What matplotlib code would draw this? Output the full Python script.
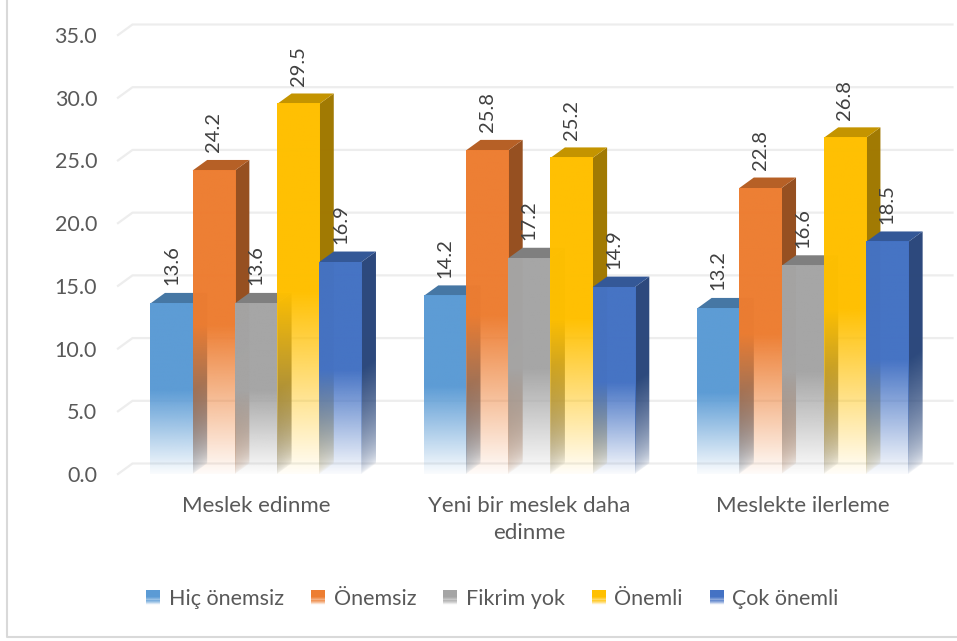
import numpy as np
import matplotlib
matplotlib.use("Agg")
import matplotlib.pyplot as plt
from matplotlib.colors import to_rgb
from matplotlib.legend_handler import HandlerBase
from matplotlib.lines import Line2D
from matplotlib.patches import Patch, Polygon, Rectangle

plt.rcParams['font.family'] = ['Lato', 'DejaVu Sans']

categories = ["Meslek edinme", "Yeni bir meslek daha\nedinme", "Meslekte ilerleme"]
series = ["Hiç önemsiz", "Önemsiz", "Fikrim yok", "Önemli", "Çok önemli"]
colors = ["#5B9BD5", "#ED7D31", "#A5A5A5", "#FFC000", "#4472C4"]

hic_onemsiz = [13.6, 14.2, 13.2]
onemsiz = [24.2, 25.8, 22.8]
fikrim_yok = [13.6, 17.2, 16.6]
onemli = [29.5, 25.2, 26.8]
cok_onemli = [16.9, 14.9, 18.5]
values = [hic_onemsiz, onemsiz, fikrim_yok, onemli, cok_onemli]

yticks = [0, 5, 10, 15, 20, 25, 30, 35]

W, H = 957, 641
text_color = "#595959"
grid_color = "#EDEDED"

fig = plt.figure(figsize=(W / 100, H / 100), dpi=100)
ax = fig.add_axes([118 / W, 1 - 474 / H, 820 / W, 439 / H])
ax.set_xlim(-0.5, 2.5)
ax.set_ylim(0, 35)
for s in ax.spines.values():
    s.set_visible(False)

# pixel sizes turned into data units
px_x = 3 / 820
px_y = 35 / 439
w = 42.2 * px_x
dx = 14.5 * px_x
dy = 10.5 * px_y
shift = 1.3 * px_x

# grid, drawn on the floor/back wall like the 3d chart
for t in yticks:
    ax.plot([-0.5, -0.5 + dx, 2.5 + dx], [t, t + dy, t + dy], color=grid_color,
            lw=1.6, clip_on=False, zorder=1)


def fade(color, top, y, offset=0, power=1.0):
    # lower half of the bar fades out to white
    a = np.clip((y - offset) / (0.49 * top), 0, 1) ** power * 0.96 + 0.03
    img = np.ones(y.shape + (4,))
    img[..., :3] = color
    img[..., 3] = a
    return img


z = 2
for j, (vals, c) in enumerate(zip(values, colors)):
    rgb = np.array(to_rgb(c))
    for i, v in enumerate(vals):
        x0 = i + shift + (j - 2.5) * w
        x1 = x0 + w

        # right side
        xs = np.linspace(0, 1, 30)
        ys = np.linspace(0, v + dy, 300)
        gx, gy = np.meshgrid(xs, ys)
        im = ax.imshow(fade(rgb * 0.63, v, gy, gx * dy, 0.55), extent=[x1, x1 + dx, 0, v + dy],
                       origin='lower', aspect='auto', zorder=z, interpolation='bilinear')
        side = Polygon([(x1, 0), (x1 + dx, dy), (x1 + dx, v + dy), (x1, v)],
                       transform=ax.transData, fc='none', ec='none')
        ax.add_patch(side)
        im.set_clip_path(side)

        # top
        ax.add_patch(Polygon([(x0, v), (x1, v), (x1 + dx, v + dy), (x0 + dx, v + dy)],
                             fc=rgb * 0.77, ec='none', zorder=z))

        # front
        ys = np.linspace(0, v, 300).reshape(-1, 1)
        ax.imshow(fade(rgb, v, ys), extent=[x0, x1, 0, v], origin='lower', aspect='auto',
                  zorder=z + 0.5, interpolation='bilinear')

        ax.annotate(f"{v:.1f}", (x0 + w / 2, v), xytext=(0, 13), textcoords='offset points',
                    rotation=90, ha='center', va='bottom', fontsize=14.5, color="#404040",
                    zorder=10)
    z += 1

ax.set_xlim(-0.5, 2.5)
ax.set_ylim(0, 35)
ax.set_yticks(yticks)
ax.set_yticklabels([f"{t:.1f}" for t in yticks], fontsize=15.5, color=text_color)
ax.set_xticks(np.arange(3) + shift)
ax.set_xticklabels(categories, fontsize=16, color=text_color, linespacing=1.45)
ax.tick_params(axis='both', length=0)
ax.tick_params(axis='y', pad=15)
ax.tick_params(axis='x', pad=16)


class FadeHandler(HandlerBase):
    def create_artists(self, legend, orig, xd, yd, width, height, fontsize, trans):
        n = 14
        out = []
        color = orig.get_facecolor()
        for k in range(n):
            frac = k / n
            a = min(1, 0.05 + frac * 2)
            r = Rectangle((-xd, -yd + height * frac), width, height / n + 0.1,
                          fc=color[:3], alpha=a, ec='none', transform=trans)
            out.append(r)
        return out


handles = [Patch(color=c) for c in colors]
leg = fig.legend(handles, series, ncols=5, loc='center', bbox_to_anchor=(492.5 / W, 1 - 599 / H),
                 frameon=False, fontsize=15.5, labelcolor=text_color,
                 handler_map={Patch: FadeHandler()}, handlelength=0.65, handleheight=0.65,
                 handletextpad=0.4, columnspacing=1.25)

# chart border, only left and bottom fall inside the picture
fig.add_artist(Line2D([7.5 / W, 7.5 / W, 1], [1, 1 - 637 / H, 1 - 637 / H], color="#D9D9D9", lw=1.5))

fig.savefig("out.png", dpi=100)
